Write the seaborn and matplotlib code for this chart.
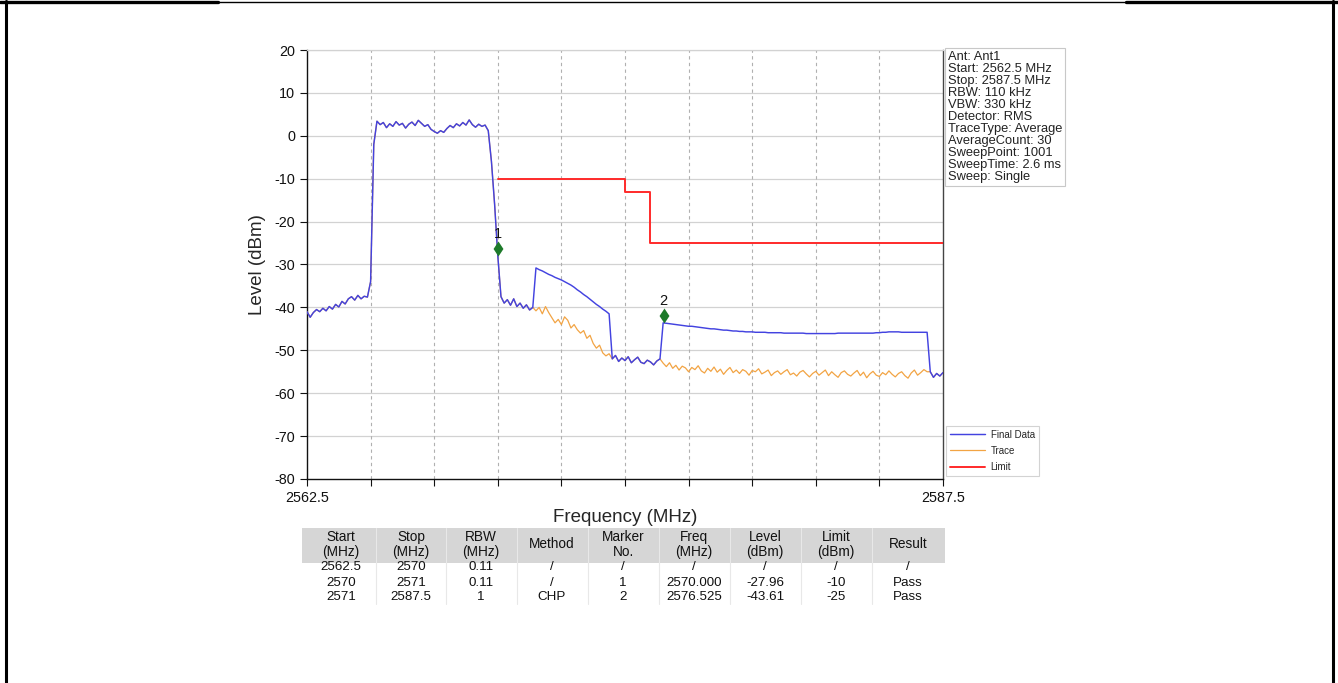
import numpy as np
import pandas as pd
import matplotlib
matplotlib.use("Agg")
import matplotlib.pyplot as plt
from matplotlib.lines import Line2D
from matplotlib.patches import Rectangle
import seaborn as sns

# ---------------- data ----------------
f_start, f_stop, n_points = 2562.5, 2587.5, 201
freq = np.linspace(f_start, f_stop, n_points)

seg_low = [-41.0, -42.3, -41.2, -40.5, -41.0, -40.2, -40.8, -39.8, -40.4, -39.3,
           -39.9, -38.6, -39.2, -38.0, -37.5, -38.3, -37.2, -38.0, -37.4, -37.6]
seg_rise = [-34.0, -2.0]
seg_top = [3.4, 2.6, 3.1, 1.9, 2.8, 2.2, 3.3, 2.5, 2.9, 1.8, 2.7, 3.2, 2.4, 3.6, 2.9,
           2.2, 2.6, 1.5, 1.0, 0.6, 1.2, 0.8, 1.7, 2.4, 1.9, 2.8, 2.3, 3.1, 2.5, 3.7,
           2.6, 2.0, 2.7, 2.2, 2.5, 1.2]
seg_fall = [-6.0, -16.0, -27.96, -37.5]
seg_edge = [-39.0, -38.2, -39.5, -38.0, -39.8, -39.0, -40.2, -39.4, -40.6, -40.0]
seg_mid = [-40.8, -40.0, -41.5, -39.8, -41.2, -42.4, -43.6, -42.8, -44.0, -42.2,
           -43.0, -44.8, -44.0, -45.2, -46.0, -45.4, -47.2, -46.5, -48.4, -49.5,
           -48.8, -50.6, -51.3, -50.8]
seg_gap = [-52.0, -51.2, -52.6, -51.8, -52.4, -51.5, -52.9, -52.2, -51.6, -52.8,
           -53.1, -52.3, -52.7, -53.4, -52.5, -52.0]
seg_far = [-53.0, -53.8, -52.9, -54.2, -53.5, -54.6, -53.7, -54.1, -55.0, -54.0, -54.5, -53.6,
           -54.8, -55.3, -54.2, -54.9, -53.9, -55.1, -54.4, -55.6, -54.7, -54.0, -55.2, -54.6,
           -55.4, -54.5, -54.9, -55.8, -54.7, -55.0, -54.3, -55.5, -55.1, -54.6, -55.9, -55.2,
           -54.8, -55.6, -55.0, -54.5, -55.7, -55.3, -56.0, -55.1, -54.7, -55.5, -56.2, -55.4,
           -54.9, -55.8, -55.2, -54.6, -55.9, -55.0, -55.7, -56.3, -55.2, -54.8, -55.6, -56.0,
           -55.3, -54.7, -55.9, -55.1, -56.4, -55.5, -54.9, -55.8, -56.1, -55.2, -55.7, -54.8,
           -55.6, -56.2, -55.4, -55.0, -55.9, -56.5, -55.3, -54.6, -55.8, -55.2, -54.5, -55.0]
seg_end = [-55.0, -56.3, -55.4, -56.0, -55.2]

chp_1 = [-30.8, -31.2, -31.5, -31.9, -32.3, -32.6, -33.0, -33.3, -33.6, -34.0,
         -34.4, -34.8, -35.3, -35.9, -36.4, -37.0, -37.5, -38.1, -38.7, -39.3,
         -39.8, -40.4, -40.9, -41.5]
chp_2 = [-43.6, -43.7, -43.8, -43.9, -44.0, -44.1, -44.2, -44.3, -44.4, -44.4, -44.5, -44.6,
         -44.7, -44.8, -44.9, -45.0, -45.0, -45.1, -45.2, -45.3, -45.3, -45.4, -45.5, -45.5,
         -45.6, -45.6, -45.7, -45.7, -45.7, -45.8, -45.8, -45.8, -45.8, -45.9, -45.9, -45.9,
         -45.9, -45.9, -46.0, -46.0, -46.0, -46.0, -46.0, -46.0, -46.0, -46.1, -46.1, -46.1,
         -46.1, -46.1, -46.1, -46.1, -46.1, -46.1, -46.1, -46.0, -46.0, -46.0, -46.0, -46.0,
         -46.0, -46.0, -46.0, -46.0, -46.0, -46.0, -46.0, -45.9, -45.9, -45.8, -45.8, -45.7,
         -45.7, -45.7, -45.7, -45.8, -45.8, -45.8, -45.8, -45.8, -45.8, -45.8, -45.8, -45.8]

limit_freq = [2570.0, 2575.0, 2575.0, 2576.0, 2576.0, 2587.5]
limit_level = [-10, -10, -13, -13, -25, -25]

marker_no = ["1", "2"]
marker_freq = [2570.000, 2576.525]
marker_level = [-27.96, -43.61]

info_lines = ["Ant: Ant1", "Start: 2562.5 MHz", "Stop: 2587.5 MHz", "RBW: 110 kHz",
              "VBW: 330 kHz", "Detector: RMS", "TraceType: Average", "AverageCount: 30",
              "SweepPoint: 1001", "SweepTime: 2.6 ms", "Sweep: Single"]

table_header = ["Start\n(MHz)", "Stop\n(MHz)", "RBW\n(MHz)", "Method", "Marker\nNo.",
                "Freq\n(MHz)", "Level\n(dBm)", "Limit\n(dBm)", "Result"]
table_rows = [["2562.5", "2570", "0.11", "/", "/", "/", "/", "/", "/"],
              ["2570", "2571", "0.11", "/", "1", "2570.000", "-27.96", "-10", "Pass"],
              ["2571", "2587.5", "1", "CHP", "2", "2576.525", "-43.61", "-25", "Pass"]]

# build series
trace = np.array(seg_low + seg_rise + seg_top + seg_fall + seg_edge + seg_mid +
                 seg_gap + seg_far + seg_end, dtype=float)
final = trace.copy()
i1 = len(seg_low + seg_rise + seg_top + seg_fall + seg_edge)
final[i1:i1 + len(chp_1)] = chp_1
i2 = i1 + len(seg_mid) + len(seg_gap)
final[i2:i2 + len(chp_2)] = chp_2

df_trace = pd.DataFrame({"f": freq, "v": trace})
df_final = pd.DataFrame({"f": freq, "v": final})
df_limit = pd.DataFrame({"f": limit_freq, "v": limit_level})

# ---------------- style ----------------
sns.set_theme(style="ticks")
plt.rcParams["font.family"] = ["Liberation Sans", "DejaVu Sans"]
plt.rcParams["axes.unicode_minus"] = False

W, H = 1338, 683
fig = plt.figure(figsize=(W / 100, H / 100), dpi=100)
fig.patch.set_facecolor("white")

def fx(px):
    return px / W

def fy(py):
    return 1 - py / H

ax = fig.add_axes([fx(307), fy(479), fx(943) - fx(307), fy(50) - fy(479)])
ax.set_facecolor("white")

blue = "#4343e0"
orange = "#f2a444"
red = "#ff2a2a"
green = "#1d7a2a"

sns.lineplot(data=df_trace, x="f", y="v", ax=ax, color=orange, linewidth=0.9,
             estimator=None, sort=False, label="Trace", zorder=3)
sns.lineplot(data=df_final, x="f", y="v", ax=ax, color=blue, linewidth=1.05,
             estimator=None, sort=False, label="Final Data", zorder=4)
sns.lineplot(data=df_limit, x="f", y="v", ax=ax, color=red, linewidth=1.4,
             estimator=None, sort=False, label="Limit", zorder=5)

diamond = [(0, 0), (0.33, 0.5), (0, 1), (-0.33, 0.5), (0, 0)]
sns.scatterplot(x=marker_freq, y=marker_level, ax=ax, marker=diamond, s=21.6 ** 2,
                color=green, linewidth=0, legend=False, zorder=6)
for lab, mf, ml in zip(marker_no, marker_freq, marker_level):
    ax.annotate(lab, xy=(mf, ml), xytext=(0, 10.5), textcoords="offset points",
                ha="center", va="bottom", fontsize=10.5, color="#111111", zorder=7)

ax.set_xlim(f_start, f_stop)
ax.set_ylim(-80, 20)
xt = np.arange(f_start, f_stop + 0.01, 2.5)
ax.set_xticks(xt)
ax.set_xticklabels([f"{xt[0]:g}"] + [""] * (len(xt) - 2) + [f"{xt[-1]:g}"])
ax.set_yticks(np.arange(-80, 21, 10))
ax.tick_params(axis="both", direction="out", length=5, width=0.8, labelsize=10.4,
               colors="#111111")
ax.set_xlabel("Frequency (MHz)", fontsize=13.5, labelpad=3)
ax.set_ylabel("Level (dBm)", fontsize=13.5, labelpad=6)

ax.grid(False)
for y in np.arange(-70, 21, 10):
    ax.axhline(y, color="#d2d2d2", linewidth=0.9, zorder=1)
for x in xt[1:-1]:
    ax.axvline(x, color="#b0b0b0", linewidth=0.8, linestyle=(0, (3, 3)), zorder=1)

for s in ["left", "bottom"]:
    ax.spines[s].set_color("#111111")
    ax.spines[s].set_linewidth(1.0)
ax.spines["right"].set_color("#444444")
ax.spines["right"].set_linewidth(1.0)
ax.spines["top"].set_color("#d2d2d2")
ax.spines["top"].set_linewidth(0.9)

# legend
handles, labels = ax.get_legend_handles_labels()
order = [labels.index(n) for n in ["Final Data", "Trace", "Limit"]]
leg = ax.legend([handles[i] for i in order], [labels[i] for i in order],
                loc="lower left", bbox_to_anchor=(1.0, 0.0), fontsize=7,
                frameon=True, fancybox=False, edgecolor="#c8c8c8",
                handlelength=3.6, labelspacing=0.65, borderpad=0.4,
                handletextpad=0.6, borderaxespad=0.3)
leg.get_frame().set_linewidth(0.8)

# info box
fig.text(fx(948), fy(51), "\n".join(info_lines), ha="left", va="top",
         fontsize=9.3, linespacing=1.0, color="#222222",
         bbox=dict(boxstyle="square,pad=0.2", facecolor="white",
                   edgecolor="#c8c8c8", linewidth=0.8))

# table
col_x = [341, 411, 481, 552, 623, 694, 765, 836, 908]
fig.patches.append(Rectangle((fx(302), fy(563)), fx(945) - fx(302), fy(528) - fy(563),
                             transform=fig.transFigure, facecolor="#d6d6d6",
                             edgecolor="none", zorder=0))
for k in range(1, len(col_x)):
    xs = (col_x[k - 1] + col_x[k]) / 2
    fig.add_artist(Line2D([fx(xs), fx(xs)], [fy(528), fy(604)], color="#e8e8e8",
                          linewidth=0.8, transform=fig.transFigure))
tfont = ["Liberation Sans Narrow", "Liberation Sans", "DejaVu Sans"]
for cx, head in zip(col_x, table_header):
    fig.text(fx(cx), fy(544.5), head, ha="center", va="center", fontsize=9.8,
             linespacing=1.05, family=tfont, color="#111111")
row_y = [567.5, 582.5, 597.5]
for ry, row in zip(row_y, table_rows):
    for cx, val in zip(col_x, row):
        fig.text(fx(cx), fy(ry), val, ha="center", va="center", fontsize=9.6,
                 family=tfont, color="#111111")

# page border
fig.add_artist(Line2D([fx(5.5), fx(5.5)], [fy(1), fy(683)], color="black",
                      linewidth=2.2, transform=fig.transFigure))
fig.add_artist(Line2D([fx(1333), fx(1333)], [fy(1), fy(683)], color="black",
                      linewidth=2.2, transform=fig.transFigure))
fig.add_artist(Line2D([fx(0), fx(218)], [fy(2), fy(2)], color="black",
                      linewidth=2.4, transform=fig.transFigure))
fig.add_artist(Line2D([fx(218), fx(1126)], [fy(2), fy(2)], color="black",
                      linewidth=1.0, transform=fig.transFigure))
fig.add_artist(Line2D([fx(1126), fx(1338)], [fy(2), fy(2)], color="black",
                      linewidth=2.4, transform=fig.transFigure))

fig.savefig("out.png", dpi=100, facecolor="white")
